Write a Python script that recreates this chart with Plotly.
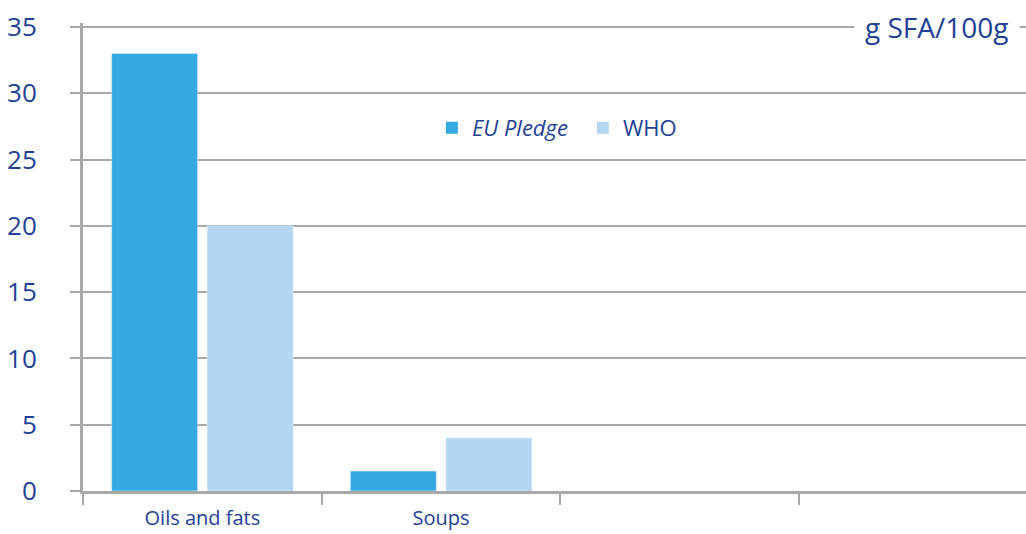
import plotly.graph_objects as go

categories = ["Oils and fats", "Soups", " ", "  "]
eu_pledge = [33, 1.5, None, None]
who = [20, 4, None, None]
y_ticks = [0, 5, 10, 15, 20, 25, 30, 35]

text_col = "#1d4294"
grid_col = "#a8a8a8"
eu_col = "#35aae2"
who_col = "#b3d6f3"
font_fam = "Open Sans, Noto Sans, sans-serif"

fig = go.Figure()
fig.add_trace(go.Bar(x=categories, y=eu_pledge, name="EU Pledge", marker_color=eu_col, showlegend=False))
fig.add_trace(go.Bar(x=categories, y=who, name="WHO", marker_color=who_col, showlegend=False))
# legend entries with larger square markers
fig.add_trace(go.Scatter(x=[None], y=[None], mode="markers", name="<i>EU Pledge</i>",
                         marker=dict(symbol="square", size=16, color=eu_col)))
fig.add_trace(go.Scatter(x=[None], y=[None], mode="markers", name="WHO",
                         marker=dict(symbol="square", size=16, color=who_col)))

fig.update_layout(
    width=1026, height=534,
    margin=dict(l=83, r=0, t=23, b=43),
    plot_bgcolor="white", paper_bgcolor="white",
    barmode="group", bargap=0.2, bargroupgap=0.1,
    font=dict(family=font_fam, color=text_col),
    showlegend=True,
    legend=dict(orientation="h", x=0.37, y=0.776, xanchor="left", yanchor="middle",
                font=dict(size=22, color=text_col), itemsizing="constant",
                itemwidth=30, entrywidth=106, entrywidthmode="pixels",
                bgcolor="rgba(0,0,0,0)"),
    xaxis=dict(range=[-0.5, 3.45], tickson="boundaries", ticks="outside", ticklen=11,
               tickwidth=2, tickcolor=grid_col, showline=True, linecolor=grid_col,
               linewidth=3, tickfont=dict(size=20, color=text_col), showgrid=False,
               ticklabelstandoff=7, automargin=False),
    yaxis=dict(range=[0, 35.3], tickvals=y_ticks, ticks="outside", ticklen=10, tickwidth=2,
               tickcolor=grid_col, showgrid=True, gridcolor=grid_col, gridwidth=2,
               showline=True, linecolor=grid_col, linewidth=3, zeroline=False,
               tickfont=dict(size=26, color=text_col), ticklabelstandoff=28,
               automargin=False),
)
fig.add_annotation(text="g SFA/100g", xref="paper", yref="y", x=0.9936, y=35,
                   xanchor="right", yanchor="middle", showarrow=False,
                   font=dict(size=28, color=text_col), bgcolor="white", borderpad=10)
fig.write_html("out.html")
